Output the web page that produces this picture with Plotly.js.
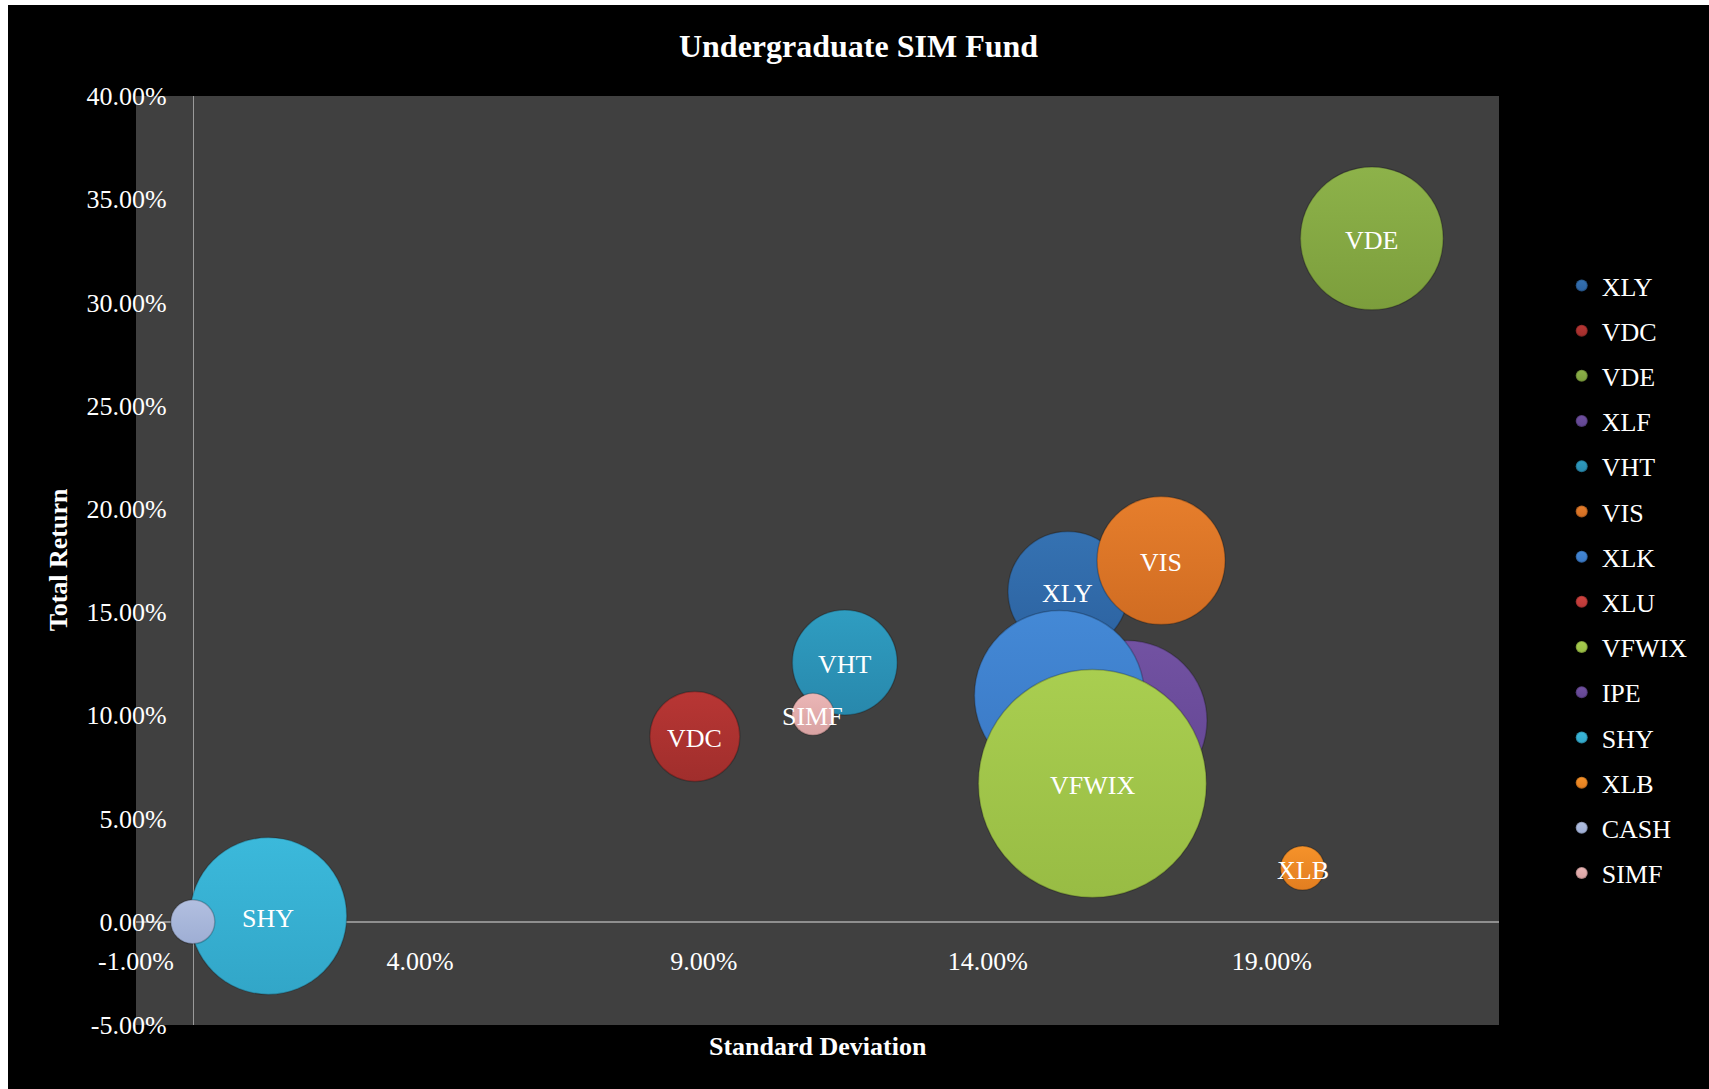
<!DOCTYPE html>
<html>
<head>
<meta charset="utf-8">
<script src="https://cdn.plot.ly/plotly-3.0.1.min.js"></script>
<style>
  html, body { margin: 0; padding: 0; background: #ffffff; width: 1709px; height: 1089px; overflow: hidden; }
  #chart { position: absolute; left: 8px; top: 5px; width: 1701px; height: 1084px; }
</style>
</head>
<body>
<div id="chart"></div>
<script>
// ---- Data (legend order) ----
const tickers    = ['XLY', 'VDC', 'VDE', 'XLF', 'VHT', 'VIS', 'XLK', 'XLU', 'VFWIX', 'IPE', 'SHY', 'XLB', 'CASH', 'SIMF'];
const stdDev     = [15.41, 8.84, 20.76, 15.50, 11.48, 17.05, 15.26, 16.30, 15.84, 16.45, 1.33, 19.54, 0.00, 10.92];
const totalRet   = [16.00, 8.98, 33.10, 5.00, 12.56, 17.50, 10.96, 8.00, 6.70, 9.75, 0.28, 2.60, 0.00, 10.05];
const bubbleSize = [7.2, 4.05, 10.2, 2.0, 5.5, 8.2, 14.45, 2.0, 26.0, 12.8, 12.3, 0.97, 0.97, 0.88];
const dataLabels = ['XLY', 'VDC', 'VDE', '', 'VHT', 'VIS', '', '', 'VFWIX', '', 'SHY', 'XLB', '', 'SIMF'];
const xTickVals  = [-1, 4, 9, 14, 19];
const yTickVals  = [-5, 0, 5, 10, 15, 20, 25, 30, 35, 40];

// ---- Styles ----
const topColors = ['#3572b2', '#b83634', '#8db24a', '#7050a0', '#2f9dc1', '#e67e2c', '#4489d6', '#d04440', '#a9ce50', '#7252a2', '#3bb9db', '#f5922a', '#b2bfe0', '#ebb6b6'];
const botColors = ['#2c62a0', '#a02e2c', '#7c9e3c', '#604690', '#2888ac', '#d06c22', '#3a78c4', '#b83838', '#98bc44', '#624592', '#32a6c8', '#e27e20', '#9eaed4', '#d8a2a2'];
// drawing order (back to front)
const drawOrder = ['XLF', 'XLU', 'XLY', 'VDC', 'VDE', 'VHT', 'IPE', 'VIS', 'XLK', 'VFWIX', 'SHY', 'XLB', 'CASH', 'SIMF'];

const FONT = 'Liberation Serif, Times New Roman, serif';
const traces = [];
drawOrder.forEach(name => {
  const i = tickers.indexOf(name);
  traces.push({
    type: 'scatter',
    mode: 'markers',
    name: tickers[i],
    legendgroup: tickers[i],
    legendrank: i + 1,
    x: [stdDev[i]],
    y: [totalRet[i]],
    marker: {
      size: [bubbleSize[i]],
      sizemode: 'area',
      sizeref: 0.001,
      opacity: 1,
      color: topColors[i],
      gradient: { type: 'vertical', color: botColors[i] },
      line: { width: 1.5, color: 'rgba(0,0,0,0.22)' }
    },
    hoverinfo: 'skip'
  });
});

// data labels (drawn above all bubbles)
const labelAnnotations = [];
tickers.forEach((t, i) => {
  if (!dataLabels[i]) return;
  labelAnnotations.push({
    text: dataLabels[i], xref: 'x', yref: 'y',
    x: stdDev[i], y: totalRet[i],
    xanchor: 'center', yanchor: 'middle', yshift: -2,
    showarrow: false,
    font: { family: FONT, size: 26, color: '#ffffff' }
  });
});

const layout = {
  width: 1701,
  height: 1084,
  paper_bgcolor: '#000000',
  plot_bgcolor: '#404040',
  margin: { l: 128, r: 210, t: 91, b: 64, pad: 0 },
  showlegend: true,
  title: {
    text: 'Undergraduate SIM Fund',
    font: { family: FONT, size: 32, color: '#ffffff', weight: 'bold' },
    x: 0.5, xref: 'container', xanchor: 'center',
    y: 0.962, yref: 'container', yanchor: 'middle'
  },
  xaxis: {
    range: [-1, 23],
    tickvals: xTickVals,
    ticktext: xTickVals.map(v => v.toFixed(2) + '%'),
    anchor: 'free',
    position: 5 / 45,
    showline: true,
    linecolor: '#8f8f8f',
    linewidth: 2,
    showgrid: false,
    zeroline: false,
    ticks: '',
    ticklabelstandoff: 16,
    tickfont: { family: FONT, size: 26, color: '#ffffff' },
    layer: 'below traces',
    fixedrange: true
  },
  yaxis: {
    range: [-5, 40],
    tickvals: yTickVals,
    ticktext: yTickVals.map(v => v.toFixed(2) + '%'),
    anchor: 'free',
    position: 1 / 24,
    showline: true,
    linecolor: '#9a9a9a',
    linewidth: 1.5,
    showgrid: false,
    zeroline: false,
    ticks: '',
    ticklabelstandoff: 21,
    tickfont: { family: FONT, size: 26, color: '#ffffff' },
    layer: 'below traces',
    fixedrange: true
  },
  legend: {
    x: 1.046, xanchor: 'left',
    y: 0.4795, yanchor: 'middle',
    bgcolor: 'rgba(0,0,0,0)',
    font: { family: FONT, size: 26, color: '#ffffff' },
    itemsizing: 'constant',
    tracegroupgap: 8.4,
    traceorder: 'grouped'
  },
  annotations: labelAnnotations.concat([
    {
      text: 'Standard Deviation', xref: 'paper', yref: 'paper',
      x: 0.5, y: -0.0232, xanchor: 'center', yanchor: 'middle', showarrow: false,
      font: { family: FONT, size: 26, color: '#ffffff', weight: 'bold' }
    },
    {
      text: 'Total Return', xref: 'paper', yref: 'paper',
      x: -0.0567, y: 0.501, xanchor: 'center', yanchor: 'middle', showarrow: false,
      textangle: -90,
      font: { family: FONT, size: 26, color: '#ffffff', weight: 'bold' }
    }
  ])
};

Plotly.newPlot('chart', traces, layout, { displayModeBar: false, staticPlot: true });
</script>
</body>
</html>
